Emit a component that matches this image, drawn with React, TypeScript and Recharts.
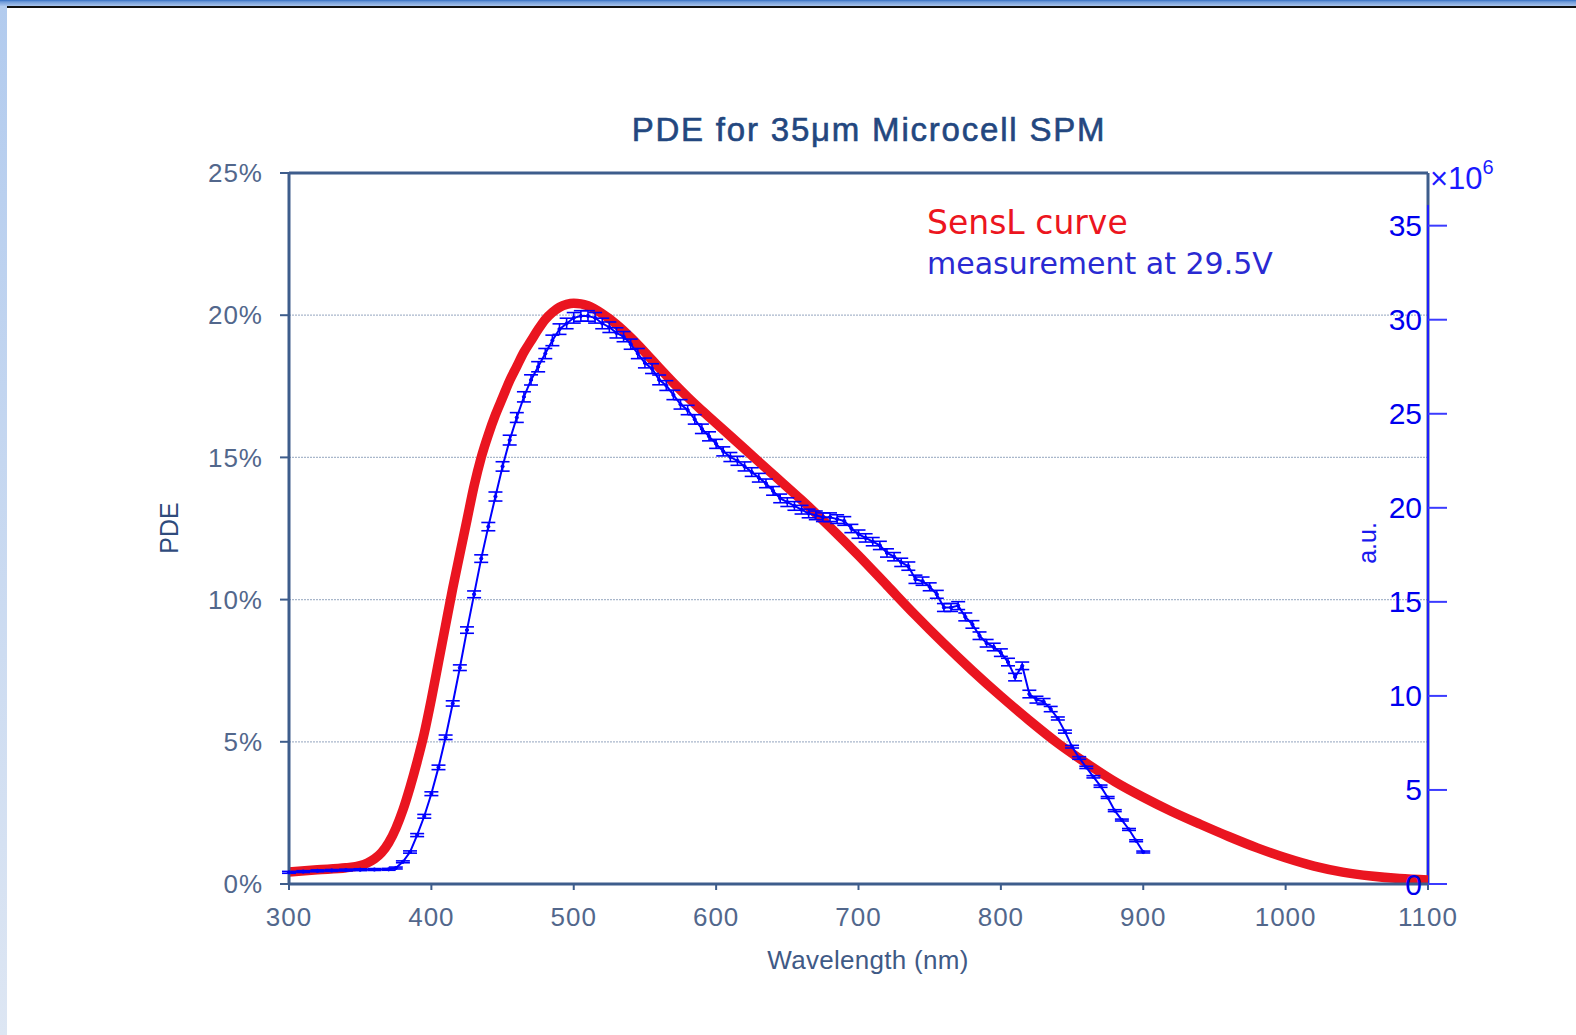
import { ComposedChart, Line, XAxis, YAxis, CartesianGrid, ReferenceLine, ErrorBar } from 'recharts'

// SensL datasheet curve, PDE in %
const redNm = [300, 320, 340, 350, 355, 360, 365, 370, 375, 380, 385, 390, 395, 400, 405, 410, 415, 420, 425, 430, 435, 440, 445, 450, 455, 460, 465, 470, 475, 480, 485, 490, 495, 500, 505, 510, 520, 530, 540, 550, 560, 570, 580, 590, 600, 620, 640, 660, 680, 700, 720, 740, 760, 780, 800, 820, 840, 860, 880, 900, 920, 940, 960, 980, 1000, 1020, 1040, 1060, 1080, 1100]
const redPde = [0.42, 0.5, 0.57, 0.65, 0.74, 0.88, 1.1, 1.45, 1.95, 2.6, 3.4, 4.3, 5.3, 6.5, 7.8, 9.1, 10.4, 11.6, 12.8, 14.0, 15.0, 15.8, 16.5, 17.1, 17.7, 18.2, 18.7, 19.1, 19.5, 19.85, 20.1, 20.28, 20.38, 20.42, 20.4, 20.33, 20.05, 19.68, 19.22, 18.7, 18.15, 17.62, 17.12, 16.65, 16.2, 15.3, 14.4, 13.5, 12.55, 11.55, 10.5, 9.45, 8.45, 7.5, 6.6, 5.75, 4.95, 4.25, 3.6, 3.05, 2.55, 2.1, 1.67, 1.27, 0.92, 0.63, 0.42, 0.28, 0.19, 0.14]

// measurement at 29.5V, a.u. (x10^6)
const blueNm = [300, 310, 320, 330, 340, 350, 360, 370,
  375, 380, 385, 390, 395, 400, 405, 410, 415, 420, 425, 430, 435,
  440, 445, 450, 455, 460, 465, 470, 475, 480, 485, 490, 495, 500, 505, 510, 515, 520, 525, 530, 535,
  540, 545, 550, 555, 560, 565, 570, 575, 580, 585, 590, 595, 600, 605, 610, 615, 620, 625, 630, 635,
  640, 645, 650, 655, 660, 665, 670, 675, 680, 685, 690, 695, 700, 705, 710, 715, 720, 725, 730, 735,
  740, 745, 750, 755, 760, 765, 770, 775, 780, 785, 790, 795, 800, 805, 810, 815, 820, 825, 830, 835,
  840, 845, 850, 855, 860, 865, 870, 875, 880, 885, 890, 895, 900]
const blueAu = [0.62, 0.66, 0.7, 0.72, 0.74, 0.76, 0.77, 0.78,
  0.85, 1.18, 1.7, 2.6, 3.6, 4.8, 6.2, 7.8, 9.6, 11.5, 13.5, 15.4, 17.3,
  19.0, 20.6, 22.2, 23.6, 24.8, 25.9, 26.8, 27.5, 28.2, 28.9, 29.5, 29.8, 30.1, 30.2, 30.2, 30.1, 29.8, 29.6, 29.3, 29.1,
  28.7, 28.2, 27.7, 27.4, 26.8, 26.5, 26.0, 25.5, 25.2, 24.7, 24.2, 23.8, 23.4, 23.0, 22.7, 22.5, 22.2, 21.9, 21.6, 21.3,
  20.9, 20.5, 20.3, 20.1, 19.9, 19.7, 19.6, 19.5, 19.5, 19.4, 19.3, 18.9, 18.6, 18.4, 18.2, 18.0, 17.6, 17.4, 17.1, 16.9,
  16.2, 16.1, 15.8, 15.4, 14.7, 14.7, 14.8, 14.2, 13.8, 13.2, 12.8, 12.6, 12.3, 11.8, 11.0, 11.6, 10.1, 9.8, 9.7, 9.3,
  8.8, 8.1, 7.3, 6.7, 6.2, 5.7, 5.2, 4.6, 3.9, 3.4, 2.9, 2.3, 1.7]
const blueErr = [0.05, 0.05, 0.05, 0.05, 0.05, 0.05, 0.05, 0.05,
  0.05, 0.05, 0.06, 0.08, 0.1, 0.1, 0.12, 0.12, 0.14, 0.15, 0.17, 0.18, 0.2,
  0.22, 0.24, 0.25, 0.26, 0.26, 0.27, 0.27, 0.27, 0.27, 0.28, 0.28, 0.28, 0.28, 0.28, 0.28, 0.28, 0.28, 0.28, 0.27, 0.27,
  0.27, 0.27, 0.26, 0.26, 0.26, 0.26, 0.25, 0.25, 0.25, 0.25, 0.25, 0.24, 0.24, 0.24, 0.24, 0.24, 0.24, 0.23, 0.23, 0.23,
  0.23, 0.23, 0.23, 0.23, 0.23, 0.23, 0.23, 0.23, 0.23, 0.23, 0.23, 0.22, 0.22, 0.22, 0.22, 0.22, 0.22, 0.22, 0.22, 0.22,
  0.22, 0.22, 0.21, 0.21, 0.21, 0.21, 0.21, 0.21, 0.2, 0.2, 0.2, 0.2, 0.2, 0.2, 0.2, 0.2, 0.2, 0.18, 0.16, 0.14,
  0.08, 0.08, 0.07, 0.07, 0.06, 0.06, 0.06, 0.05, 0.05, 0.05, 0.05, 0.05, 0.05]

const xTicks = [300, 400, 500, 600, 700, 800, 900, 1000, 1100]
const pdeTicks = [0, 5, 10, 15, 20, 25]
const auTicks = [0, 5, 10, 15, 20, 25, 30, 35]

const FRAME = '#3e5d8c'
const TICK_TXT = '#52678c'
const BLUE = '#0000ff'
const RED = '#ea1520'
const SANS = 'Liberation Sans, Arial, sans-serif'

type Row = { nm: number; sensl?: number; meas?: number; err?: number }

function buildRows(): Row[] {
  const rows = new Map<number, Row>()
  redNm.forEach((nm, i) => {
    rows.set(nm, { ...(rows.get(nm) || { nm }), sensl: redPde[i] })
  })
  blueNm.forEach((nm, i) => {
    rows.set(nm, { ...(rows.get(nm) || { nm }), meas: blueAu[i], err: blueErr[i] })
  })
  return [...rows.values()].sort((a, b) => a.nm - b.nm)
}

const RightTick = ({ x, y, payload }: { x?: number; y?: number; payload?: { value: number } }) => {
  if (x == null || y == null || !payload) return null
  return (
    <g>
      <line x1={x} x2={x + 19} y1={y} y2={y} stroke="#3b3bff" strokeWidth={2} />
      <text x={x - 6} y={y} textAnchor="end" dominantBaseline="central"
        fontFamily={SANS} fontSize={30} fill="#0000ee">
        {payload.value}
      </text>
    </g>
  )
}

const txt = (extra: React.CSSProperties): React.CSSProperties => ({
  position: 'absolute',
  whiteSpace: 'nowrap',
  lineHeight: 1,
  ...extra,
})

const tickStyle = { fontSize: 26, fill: TICK_TXT, fontFamily: SANS, letterSpacing: 1 }

export default function App() {
  const data = buildRows()
  return (
    <div style={{ position: 'absolute', left: 0, top: 0, width: 1576, height: 1035, background: '#fff', overflow: 'hidden' }}>
      {/* slide decoration */}
      <div style={{ position: 'absolute', left: 0, top: 0, width: 1576, height: 6, background: 'linear-gradient(#3570c4 0%, #6f9ad8 30%, #a9c5ed 100%)' }} />
      <div style={{ position: 'absolute', left: 7, top: 6, width: 1569, height: 2, background: '#111' }} />
      <div style={{ position: 'absolute', left: 0, top: 6, width: 7, height: 1029, background: 'linear-gradient(#b2cbee, #dde6f3)' }} />

      <ComposedChart width={1576} height={1035} data={data}
        margin={{ top: 173, right: 88, bottom: 111, left: 209 }}>
        <CartesianGrid horizontal vertical={false} stroke="#a9b7cb" strokeDasharray="2 1" strokeWidth={1.2}
          yAxisId="left" />
        <XAxis dataKey="nm" type="number" domain={[300, 1100]} ticks={xTicks} height={40}
          axisLine={{ stroke: FRAME, strokeWidth: 3 }} tickLine={{ stroke: FRAME, strokeWidth: 2 }}
          tickSize={6} tickMargin={18} tick={tickStyle} />
        <YAxis yAxisId="left" domain={[0, 25]} ticks={pdeTicks} width={80}
          tickFormatter={v => `${v}%`}
          axisLine={{ stroke: FRAME, strokeWidth: 3 }} tickLine={{ stroke: FRAME, strokeWidth: 2 }}
          tickSize={9} tickMargin={17} tick={tickStyle} />
        <YAxis yAxisId="right" orientation="right" domain={[0, 37.8]} ticks={auTicks} width={60}
          axisLine={false} tickLine={false} tickSize={0} tickMargin={0} tick={<RightTick />} />
        <ReferenceLine yAxisId="left" y={25} stroke={FRAME} strokeWidth={3} />
        <ReferenceLine yAxisId="left" x={1100} stroke={FRAME} strokeWidth={3} />
        <ReferenceLine yAxisId="right" segment={[{ x: 1100, y: 0 }, { x: 1100, y: 36.1 }]} stroke="#2020ff" strokeWidth={2} />
        <Line yAxisId="left" dataKey="sensl" type="monotone" stroke={RED} strokeWidth={9.5}
          dot={false} connectNulls isAnimationActive={false} />
        <Line yAxisId="right" dataKey="meas" type="linear" stroke={BLUE} strokeWidth={2}
          dot={{ r: 1.6, fill: BLUE, stroke: BLUE, strokeWidth: 1 }} connectNulls isAnimationActive={false}>
          <ErrorBar dataKey="err" direction="y" width={7} stroke={BLUE} strokeWidth={1.6} />
        </Line>
      </ComposedChart>

      <div style={txt({ left: 869, top: 129, transform: 'translate(-50%, -50%)', fontFamily: SANS, fontSize: 33, letterSpacing: 1.8, color: '#23477f', WebkitTextStroke: '0.6px #23477f' })}>
        PDE for 35μm Microcell SPM
      </div>
      <div style={txt({ left: 868, top: 960, transform: 'translate(-50%, -50%)', fontFamily: SANS, fontSize: 26, letterSpacing: 0.3, color: '#3f5a86' })}>
        Wavelength (nm)
      </div>
      <div style={txt({ left: 169, top: 528, transform: 'translate(-50%, -50%) rotate(-90deg)', fontFamily: SANS, fontSize: 25, color: '#2f4b7c' })}>
        PDE
      </div>
      <div style={txt({ left: 1367, top: 543, transform: 'translate(-50%, -50%) rotate(-90deg)', fontFamily: SANS, fontSize: 25, color: '#1a1aee' })}>
        a.u.
      </div>
      <div style={txt({ left: 1430, top: 161, fontFamily: SANS, fontSize: 31, color: '#1a1aff' })}>
        ×10<sup style={{ fontSize: 20, position: 'relative', top: -4 }}>6</sup>
      </div>
      <div style={txt({ left: 927, top: 222, transform: 'translateY(-50%)', fontFamily: 'DejaVu Sans, sans-serif', fontSize: 33, color: '#ec1520' })}>
        SensL curve
      </div>
      <div style={txt({ left: 927, top: 264, transform: 'translateY(-50%)', fontFamily: 'DejaVu Sans, sans-serif', fontSize: 30, color: '#2a2ad2' })}>
        measurement at 29.5V
      </div>
    </div>
  )
}
